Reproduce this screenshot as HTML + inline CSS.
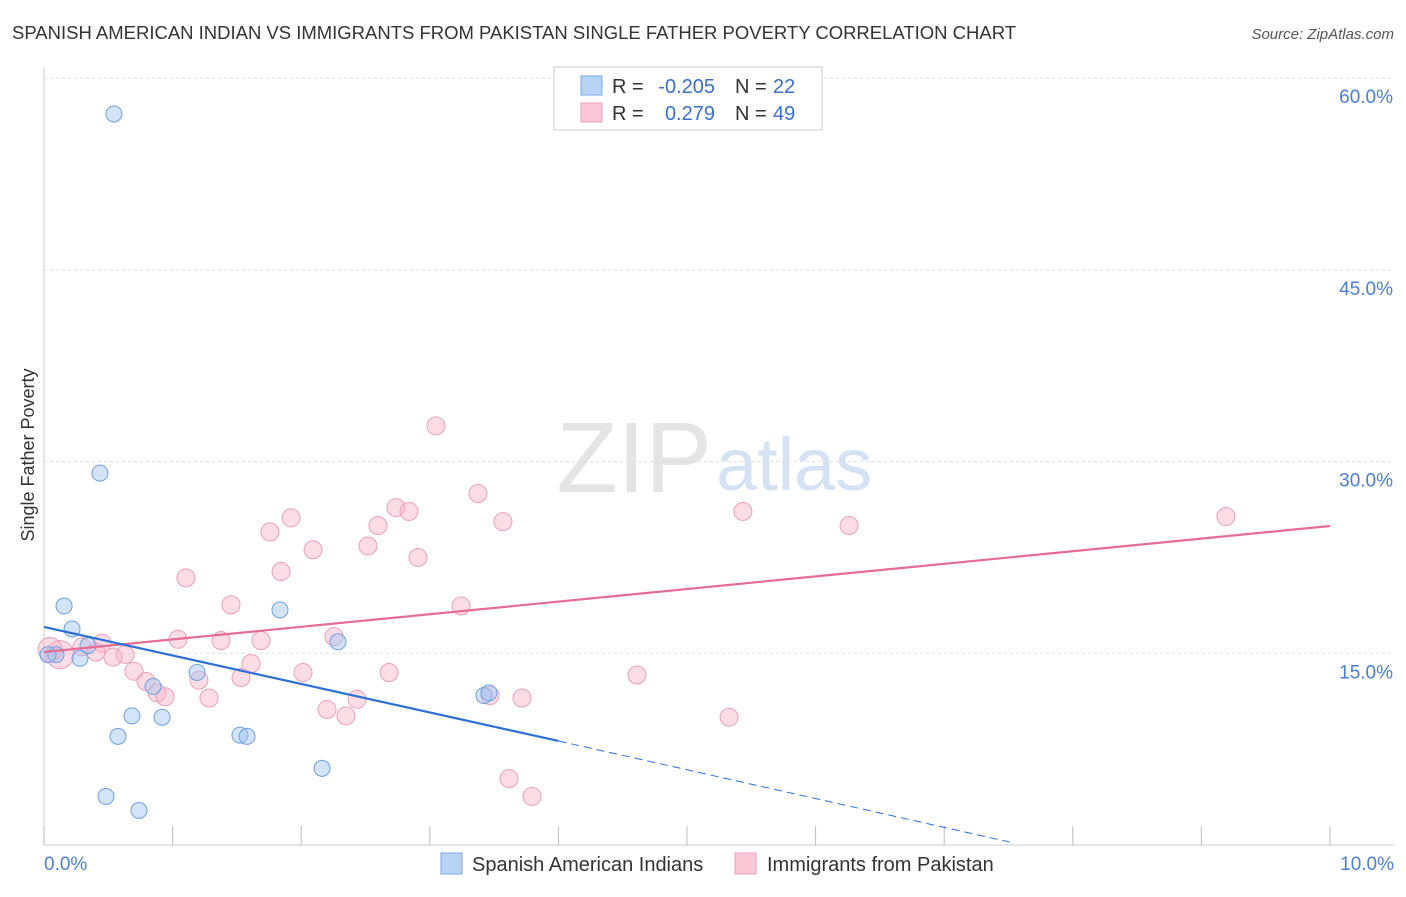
<!DOCTYPE html>
<html><head><meta charset="utf-8"><style>
body{margin:0;background:#fff;font-family:"Liberation Sans",sans-serif;}
svg text{font-family:"Liberation Sans",sans-serif;}
</style></head><body>
<svg id="chart" width="1406" height="892" viewBox="0 0 1406 892" xmlns="http://www.w3.org/2000/svg">
<text x="12" y="39" font-size="18" fill="#333" textLength="1004" lengthAdjust="spacingAndGlyphs">SPANISH AMERICAN INDIAN VS IMMIGRANTS FROM PAKISTAN SINGLE FATHER POVERTY CORRELATION CHART</text>
<text x="1394" y="39" font-size="15" fill="#555" text-anchor="end" font-style="italic">Source: ZipAtlas.com</text>
<text x="712" y="492" font-size="100" fill="#e4e4e4" text-anchor="end" font-family="Liberation Serif">ZIP</text>
<text x="716" y="490" font-size="74" fill="#d4e2f4">atlas</text>
<g id="grid"></g>
<line x1="44" y1="68" x2="44" y2="845" stroke="#ccc"/>
<line x1="44" y1="845" x2="1394" y2="845" stroke="#ccc"/>
<g id="xticks"></g>
<text x="34" y="455" font-size="18" fill="#333" text-anchor="middle" transform="rotate(-90 34 455)">Single Father Poverty</text>
<text x="44" y="870" font-size="19" fill="#4a7fd4">0.0%</text>
<text x="1394" y="870" font-size="19" fill="#4a7fd4" text-anchor="end">10.0%</text>
<g id="pts"></g>
<g id="trends"></g>
<g>
<rect x="554" y="67" width="268" height="63" fill="#fff" stroke="#ccc"/>
<rect x="581" y="76" width="21" height="19" fill="#b8d4f5" stroke="#7aaae6"/>
<rect x="581" y="103" width="21" height="19" fill="#fcc8d8" stroke="#eea0b8"/>
<text x="612" y="93" font-size="20" fill="#333">R =</text>
<text x="715" y="93" font-size="20" fill="#3a70cc" text-anchor="end">-0.205</text>
<text x="735" y="93" font-size="20" fill="#333">N =</text>
<text x="773" y="93" font-size="20" fill="#3a70cc">22</text>
<text x="612" y="120" font-size="20" fill="#333">R =</text>
<text x="715" y="120" font-size="20" fill="#3a70cc" text-anchor="end">0.279</text>
<text x="735" y="120" font-size="20" fill="#333">N =</text>
<text x="773" y="120" font-size="20" fill="#3a70cc">49</text>
</g>
<g>
<rect x="441" y="853" width="21" height="21" fill="#b8d4f5" stroke="#7aaae6"/>
<text x="472" y="871" font-size="20" fill="#333">Spanish American Indians</text>
<rect x="735" y="853" width="21" height="21" fill="#fcc8d8" stroke="#eea0b8"/>
<text x="767" y="871" font-size="20" fill="#333">Immigrants from Pakistan</text>
</g>
</svg>
<script>
const yTicks=[15,30,45,60];
const yTickLabels=["15.0%","30.0%","45.0%","60.0%"];
const xTicks=[0,1,2,3,4,5,6,7,8,9,10];
const blueX=[0.544,0.435,0.156,0.218,0.342,0.093,0.280,1.835,2.286,1.190,0.848,0.684,0.918,0.575,1.524,1.579,2.162,0.482,0.739,3.421,3.460,0.031];
const blueY=[57.2,29.1,18.7,16.9,15.6,14.9,14.6,18.4,15.9,13.5,12.4,10.1,10.0,8.5,8.6,8.5,6.0,3.8,2.7,11.7,11.9,14.9];
const pinkX=[3.048,3.375,2.737,2.838,1.921,2.597,3.569,1.757,2.519,2.092,2.908,1.843,1.104,1.454,3.243,5.435,6.260,9.191,1.042,1.376,1.687,2.255,0.451,0.295,0.404,0.630,0.537,1.610,0.700,2.014,2.683,4.611,0.793,1.205,1.532,0.879,0.941,1.283,2.434,3.468,3.717,2.201,2.348,5.327,3.616,3.795,0.124,0.047];
const pinkY=[32.8,27.5,26.4,26.1,25.6,25.0,25.3,24.5,23.4,23.1,22.5,21.4,20.9,18.8,18.7,26.1,25.0,25.7,16.1,16.0,16.0,16.3,15.8,15.5,15.1,14.9,14.7,14.2,13.6,13.5,13.5,13.3,12.8,12.9,13.1,11.9,11.6,11.5,11.4,11.7,11.5,10.6,10.1,10.0,5.2,3.8,14.9,15.3];
const pinkR=[9,9,9,9,9,9,9,9,9,9,9,9,9,9,9,9,9,9,9,9,9,9,9,9,9,9,9,9,9,9,9,9,9,9,9,9,9,9,9,9,9,9,9,9,9,9,14,12];
const blueTrend=[[0,17.06],[4.0,8.14]];
const blueDash=[[4.0,8.14],[7.51,0.23]];
const pinkTrend=[[0,15.1],[10,24.96]];
const NS="http://www.w3.org/2000/svg";
const X=v=>44+v*128.6, Y=v=>845-v*12.78;
function mk(t,a,p){const e=document.createElementNS(NS,t);for(const k in a)e.setAttribute(k,a[k]);p.appendChild(e);return e;}
const grid=document.getElementById('grid');
yTicks.forEach((t,i)=>{
 const l=mk('line',{x1:44,x2:1394,y1:Y(t),y2:Y(t),stroke:'#ddd','stroke-dasharray':'3,3'},grid);
 
 
 const tx=mk('text',{x:1393,y:Y(t)+25,'font-size':19,fill:'#4a7fd4','text-anchor':'end'},grid);
 tx.textContent=yTickLabels[i];
 
 
});
const xt=document.getElementById('xticks');
xTicks.forEach(t=>{
 const l=mk('line',{x1:X(t),x2:X(t),y1:826,y2:845,stroke:'#bbb'},xt);
 
 
});
const pts=document.getElementById('pts');
pinkX.forEach((x,i)=>{
 const c=mk('circle',{cx:X(x),cy:Y(pinkY[i]),r:pinkR[i],fill:'rgba(248,180,200,0.45)',stroke:'#eaa0b8','stroke-width':1},pts);
 
 
});
blueX.forEach((x,i)=>{
 const c=mk('circle',{cx:X(x),cy:Y(blueY[i]),r:8,fill:'rgba(160,196,240,0.45)',stroke:'#6f9fe0','stroke-width':1},pts);
 
 
});
const tr=document.getElementById('trends');
let a=mk('line',{x1:X(pinkTrend[0][0]),y1:Y(pinkTrend[0][1]),x2:X(pinkTrend[1][0]),y2:Y(pinkTrend[1][1]),stroke:'#e46c96','stroke-width':2.2},tr);


a=mk('line',{x1:X(blueTrend[0][0]),y1:Y(blueTrend[0][1]),x2:X(blueTrend[1][0]),y2:Y(blueTrend[1][1]),stroke:'#2d6fd6','stroke-width':2.2},tr);


a=mk('line',{x1:X(blueDash[0][0]),y1:Y(blueDash[0][1]),x2:X(blueDash[1][0]),y2:Y(blueDash[1][1]),stroke:'#2d6fd6','stroke-width':1,'stroke-dasharray':'8,5'},tr);


</script>
</body></html>
